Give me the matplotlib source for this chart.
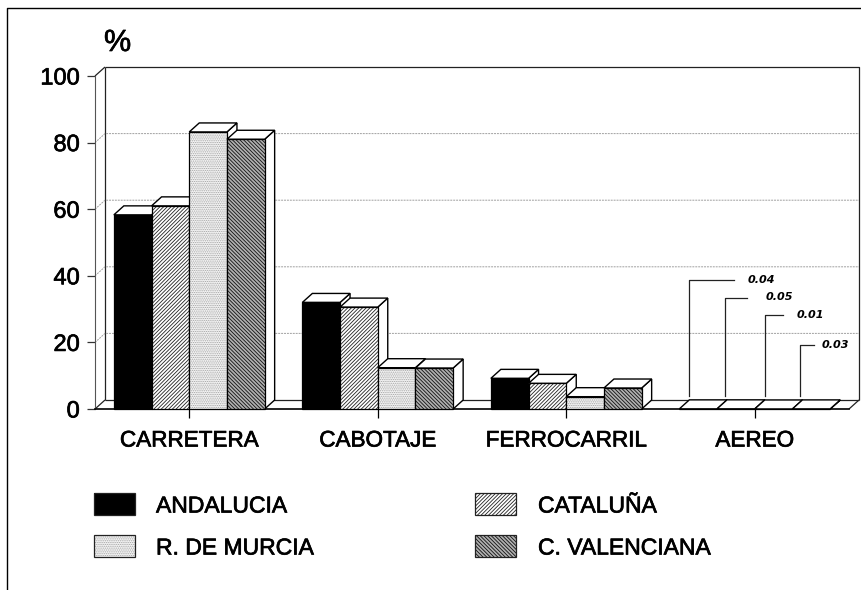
import matplotlib
matplotlib.use("Agg")
import matplotlib.pyplot as plt
from matplotlib.patches import Polygon, Rectangle
from matplotlib.lines import Line2D
from matplotlib.transforms import Affine2D
import matplotlib.patheffects as pe

categories = ["CARRETERA", "CABOTAJE", "FERROCARRIL", "AEREO"]
series_names = ["ANDALUCIA", "CATALUÑA", "R. DE MURCIA", "C. VALENCIANA"]
andalucia = [58.3, 32.0, 9.2, 0.04]
cataluna = [61.0, 30.6, 7.7, 0.05]
murcia = [83.2, 12.4, 3.7, 0.01]
valenciana = [81.0, 12.3, 6.3, 0.03]
series = [andalucia, cataluna, murcia, valenciana]
y_ticks = [0, 20, 40, 60, 80, 100]
aereo_labels = ["0.04", "0.05", "0.01", "0.03"]

styles = [
    dict(facecolor="black", hatch=None, edgecolor="black"),
    dict(facecolor="#ffffff", hatch="/" * 9, edgecolor="#222222"),
    dict(facecolor="#f6f6f6", hatch="." * 9, edgecolor="#a0a0a0"),
    dict(facecolor="#b0b0b0", hatch="\\" * 9, edgecolor="#111111"),
]

plt.rcParams["font.family"] = ["Liberation Sans", "DejaVu Sans"]
plt.rcParams["hatch.linewidth"] = 0.6

W, H = 861, 590
fig = plt.figure(figsize=(W / 100, H / 100), dpi=100, facecolor="white")
ax = fig.add_axes([95 / W, 1 - 409 / H, 754 / W, 333 / H])
ax.set_xlim(-0.5, 3.5)
ax.set_ylim(0, 100)
ax.patch.set_visible(False)
px = Affine2D().scale(1, -1).translate(0, H)  # top-left pixel coordinates

DX = 10 / 188.5   # depth of the 3D effect, data units
DY = 9 / 3.33
BW = 0.2
bold = [pe.withStroke(linewidth=0.5, foreground="black")]

for s in ("top", "right"):
    ax.spines[s].set_visible(False)
ax.spines["left"].set_linewidth(0.8)
ax.spines["left"].set_color("#555555")
ax.spines["bottom"].set_linewidth(1.2)
ax.set_yticks(y_ticks)
ax.set_xticks(range(len(categories)))
ax.set_xticklabels(categories, fontsize=16.2, path_effects=bold)
ax.set_yticklabels([str(v) for v in y_ticks], fontsize=17, path_effects=bold)
ax.tick_params(axis="x", length=6.5, width=0.9, pad=9)
ax.tick_params(axis="y", length=6, width=0.9, pad=5, color="#333333")

wall = dict(clip_on=False, color="#222222", lw=0.9, solid_capstyle="butt")
x0, x1 = -0.5, 3.5
ax.plot([x0 + DX, x1 + DX, x1 + DX], [100 + DY, 100 + DY, DY], zorder=1, **wall)
ax.plot([x0 + DX, x0 + DX], [DY, 100 + DY], zorder=1, **wall)
ax.plot([x0 + DX, x1 + DX], [DY, DY], zorder=1, **wall)
ax.plot([x0, x0 + DX], [100, 100 + DY], zorder=1, **wall)
ax.plot([x0, x0 + DX], [0, DY], zorder=1, **wall)
ax.plot([x1, x1 + DX], [0, DY], zorder=1, **wall)
for v in y_ticks[1:-1]:
    ax.plot([x0, x0 + DX, x1 + DX], [v, v + DY, v + DY], color="#a0a0a0",
            lw=0.7, ls=(0, (2, 1)), zorder=1, clip_on=False)

z = 3
for c in range(len(categories)):
    for i, vals in enumerate(series):
        v = vals[c]
        left = c + (i - 2) * BW
        right = left + BW
        ax.add_patch(Polygon([(right, 0), (right + DX, DY), (right + DX, v + DY), (right, v)],
                             facecolor="white", edgecolor="black", lw=1.0, zorder=z, clip_on=False))
        ax.add_patch(Polygon([(left, v), (left + DX, v + DY), (right + DX, v + DY), (right, v)],
                             facecolor="white", edgecolor="black", lw=1.0, zorder=z, clip_on=False))
        ax.bar(left, v, BW, align="edge", linewidth=0, zorder=z + 0.5, clip_on=False, **styles[i])
        ax.bar(left, v, BW, align="edge", fill=False, edgecolor="black", linewidth=0.9,
               zorder=z + 0.6, clip_on=False)
        z += 1

leader_x = [689, 725, 765, 800]
leader_top = [280, 297.5, 315, 345]
leader_end = [734, 747, 783, 814]
text_x = [748, 766, 797, 822]
for lx, ly, le, tx, lab in zip(leader_x, leader_top, leader_end, text_x, aereo_labels):
    fig.add_artist(Line2D([lx, lx, le], [396, ly, ly], color="#222222", lw=0.9, transform=px, zorder=200))
    fig.text(tx, ly, lab, transform=px, fontsize=8, style="italic", weight="bold",
             family="DejaVu Sans", va="center", ha="left", zorder=200)

fig.text(104, 43, "%", transform=px, fontsize=22, va="center", ha="left", path_effects=bold)

legend_pos = [(94, 493, 156, 506), (475, 493, 538, 506), (94, 535, 156, 548), (475, 535, 538, 548)]
for i, (sx, sy, tx, ty) in enumerate(legend_pos):
    fig.add_artist(Rectangle((sx, sy), 41, 22, transform=px, linewidth=0, **styles[i]))
    fig.add_artist(Rectangle((sx, sy), 41, 22, transform=px, fill=False, edgecolor="#222222", linewidth=0.9))
    fig.text(tx, ty, series_names[i], transform=px, fontsize=16.5, va="center", ha="left", path_effects=bold)

fig.add_artist(Line2D([7, 7, 861], [590, 8, 8], color="black", lw=1.0, transform=px))

fig.savefig("out.png", dpi=100, facecolor="white")
